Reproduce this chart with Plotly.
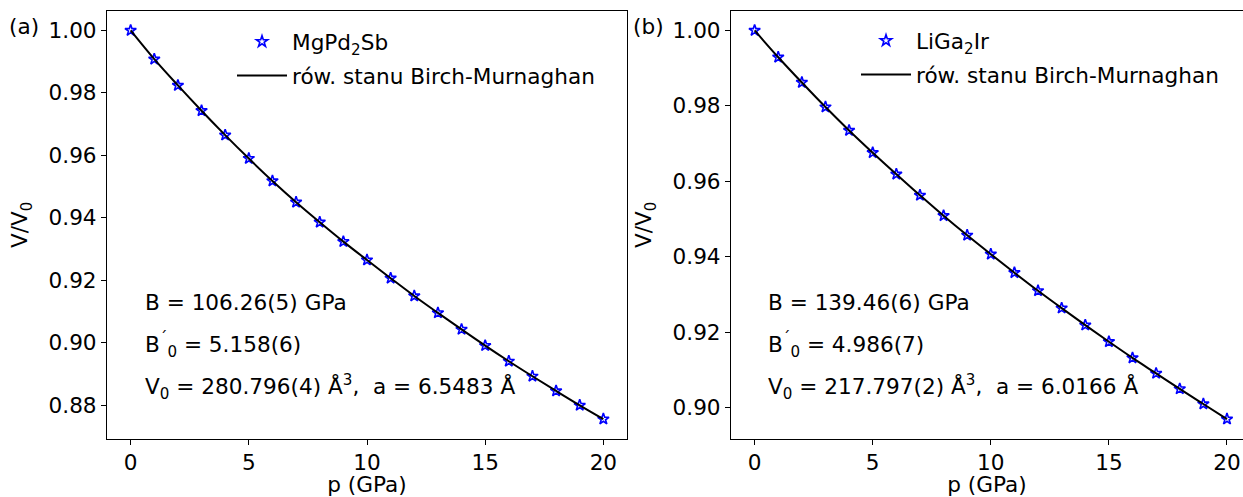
import plotly.graph_objects as go

# Pressure points (GPa) and relative volume V/V0 for both compounds
pressure_gpa = list(range(0, 21))
mgpd2sb_ratio = [1.0000, 0.9908, 0.9824, 0.9743, 0.9665, 0.9590, 0.9518, 0.9450,
                 0.9386, 0.9324, 0.9265, 0.9207, 0.9150, 0.9096, 0.9043, 0.8991,
                 0.8941, 0.8893, 0.8846, 0.8800, 0.8756]
liga2ir_ratio = [1.0000, 0.9929, 0.9862, 0.9797, 0.9735, 0.9676, 0.9619, 0.9563,
                 0.9509, 0.9457, 0.9407, 0.9358, 0.9310, 0.9264, 0.9219, 0.9175,
                 0.9132, 0.9091, 0.9050, 0.9010, 0.8970]

compound_names = ["MgPd<sub>2</sub>Sb", "LiGa<sub>2</sub>Ir"]
fit_name = "rów. stanu Birch-Murnaghan"
panel_tags = ["(a)", "(b)"]
fit_params = [
    ["B = 106.26(5) GPa", "B<sup>´</sup><sub>0</sub> = 5.158(6)",
     "V<sub>0</sub> = 280.796(4) Å<sup>3</sup>,  a = 6.5483 Å"],
    ["B = 139.46(6) GPa", "B<sup>´</sup><sub>0</sub> = 4.986(7)",
     "V<sub>0</sub> = 217.797(2) Å<sup>3</sup>,  a = 6.0166 Å"],
]

W, H = 1243, 497
FONT = "DejaVu Sans"
FS = 21.6


def fx(x):
    return x / W


def fy(y):
    return 1 - y / H


def padded(vals, frac=0.05):
    lo, hi = min(vals), max(vals)
    span = hi - lo
    return [lo - frac * span, hi + frac * span]


fig = go.Figure()

series = [mgpd2sb_ratio, liga2ir_ratio]
for i, ratio in enumerate(series):
    xa = "x" if i == 0 else "x2"
    ya = "y" if i == 0 else "y2"
    leg = "legend" if i == 0 else "legend2"
    fig.add_trace(go.Scatter(
        x=pressure_gpa, y=ratio, mode="markers", name=compound_names[i],
        xaxis=xa, yaxis=ya, legend=leg, legendgroup=f"pts{i}",
        marker=dict(symbol="star-open", size=8.5, color="#0000ff",
                    line=dict(color="#0000ff", width=1.6)),
    ))
    fig.add_trace(go.Scatter(
        x=pressure_gpa, y=ratio, mode="lines", name=fit_name,
        xaxis=xa, yaxis=ya, legend=leg, legendgroup=f"fit{i}",
        line=dict(color="black", width=2, shape="spline"),
    ))

axis_common = dict(
    showline=True, linecolor="black", linewidth=1.1,
    ticks="outside", ticklen=5, tickwidth=1.1, tickcolor="black",
    showgrid=False, zeroline=False,
    tickfont=dict(family=FONT, size=FS, color="black"),
    title_font=dict(family=FONT, size=FS, color="black"),
)

y_top, y_bot = 11, 438.5
fig.update_layout(
    width=W, height=H,
    margin=dict(l=0, r=0, t=0, b=0),
    paper_bgcolor="white", plot_bgcolor="white",
    showlegend=True,
    xaxis=dict(domain=[fx(107), fx(627)], range=[-1, 21], dtick=5,
               anchor="y", mirror=True,
               title=dict(text="p (GPa)", standoff=3), **axis_common),
    yaxis=dict(domain=[fy(y_bot), fy(y_top)], range=padded(mgpd2sb_ratio),
               dtick=0.02, tickformat=".2f", anchor="x", mirror=True,
               title=dict(text="V/V<sub>0</sub>", standoff=14), **axis_common),
    xaxis2=dict(domain=[fx(731), 1.0], range=[-1, (W - 755) / 23.6], dtick=5,
                anchor="y2", mirror=True,
                title=dict(text="p (GPa)", standoff=3), **axis_common),
    yaxis2=dict(domain=[fy(y_bot), fy(y_top)], range=padded(liga2ir_ratio),
                dtick=0.02, tickformat=".2f", anchor="x2", mirror=False,
                title=dict(text="V/V<sub>0</sub>", standoff=14), **axis_common),
    legend=dict(x=fx(232), y=fy(21), xanchor="left", yanchor="top",
                bgcolor="rgba(0,0,0,0)", itemwidth=50,
                traceorder="grouped", tracegroupgap=3,
                font=dict(family=FONT, size=FS, color="black")),
    legend2=dict(x=fx(856), y=fy(20), xanchor="left", yanchor="top",
                 bgcolor="rgba(0,0,0,0)", itemwidth=50,
                 traceorder="grouped", tracegroupgap=3,
                 font=dict(family=FONT, size=FS, color="black")),
)

annotations = []
tag_x = [7, 631]
text_x = [143, 766]
row_y = [302, 345, 387]
for i in range(2):
    annotations.append(dict(
        text=panel_tags[i], x=fx(tag_x[i]), y=fy(26), xref="paper", yref="paper",
        xanchor="left", yanchor="middle", showarrow=False,
        font=dict(family=FONT, size=FS, color="black"),
    ))
    for j, line in enumerate(fit_params[i]):
        annotations.append(dict(
            text=line, x=fx(text_x[i]), y=fy(row_y[j]), xref="paper", yref="paper",
            xanchor="left", yanchor="middle", showarrow=False,
            font=dict(family=FONT, size=FS, color="black"),
        ))
fig.update_layout(annotations=annotations)

fig.write_html("out.html")
